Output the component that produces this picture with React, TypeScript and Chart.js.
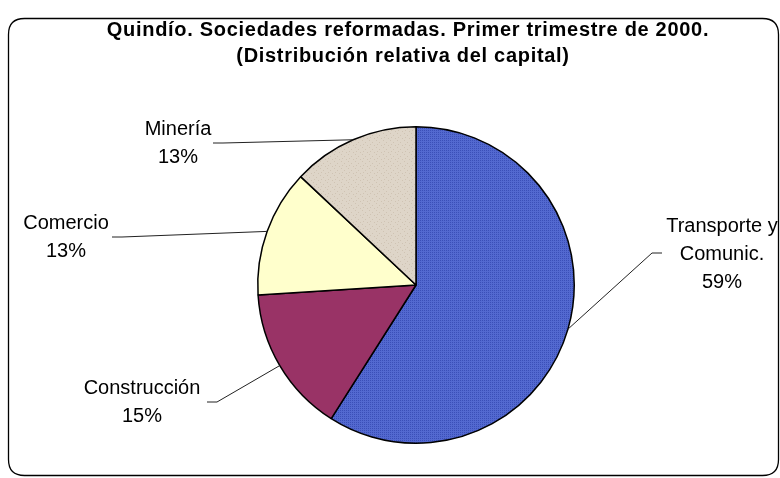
import React, { useEffect, useRef } from "react";
import { Chart, registerables } from "chart.js";

Chart.register(...registerables);

const categories = ["Transporte y Comunic.", "Construcción", "Comercio", "Minería"];
const labelLines = [["Transporte y", "Comunic."], ["Construcción"], ["Comercio"], ["Minería"]];
const shares = [59, 15, 13, 13];
const titleLines = [
  "Quindío. Sociedades reformadas. Primer trimestre de 2000.",
  "(Distribución relativa del capital)",
];

// label layout: text centre relative to pie centre, stub end relative to text centre
const labelLayout = [
  { dx: 306, dy: -31, sx: -60, sy: -1, dir: -1 },
  { dx: -274, dy: 117, sx: 65, sy: 0, dir: 1 },
  { dx: -350, dy: -48, sx: 46, sy: 0, dir: 1 },
  { dx: -238, dy: -142, sx: 35, sy: 0, dir: 1 },
];

function makePattern(base: string, dot: string, size: number, dots: number[][]) {
  const c = document.createElement("canvas");
  c.width = size;
  c.height = size;
  const g = c.getContext("2d")!;
  g.fillStyle = base;
  g.fillRect(0, 0, size, size);
  g.fillStyle = dot;
  dots.forEach(([x, y]) => g.fillRect(x, y, 1, 1));
  return g.createPattern(c, "repeat")!;
}

const decorPlugin = {
  id: "decor",
  beforeDraw(chart: any) {
    const ctx = chart.ctx as CanvasRenderingContext2D;
    ctx.save();
    ctx.fillStyle = "#ffffff";
    ctx.fillRect(0, 0, chart.width, chart.height);
    const x0 = 8.5, y0 = 18.5, x1 = 778.5, y1 = 475.5, r = 16;
    ctx.beginPath();
    ctx.moveTo(x0 + r, y0);
    ctx.lineTo(x1 - r, y0);
    ctx.quadraticCurveTo(x1, y0, x1, y0 + r);
    ctx.lineTo(x1, y1 - r);
    ctx.quadraticCurveTo(x1, y1, x1 - r, y1);
    ctx.lineTo(x0 + r, y1);
    ctx.quadraticCurveTo(x0, y1, x0, y1 - r);
    ctx.lineTo(x0, y0 + r);
    ctx.quadraticCurveTo(x0, y0, x0 + r, y0);
    ctx.closePath();
    ctx.lineWidth = 1.3;
    ctx.strokeStyle = "#000000";
    ctx.stroke();
    ctx.restore();
  },
  afterDraw(chart: any) {
    const ctx = chart.ctx as CanvasRenderingContext2D;
    ctx.save();
    // title
    ctx.fillStyle = "#000000";
    ctx.textAlign = "center";
    ctx.textBaseline = "middle";
    ctx.font = "bold 20px 'Liberation Sans', Arial, sans-serif";
    (ctx as any).letterSpacing = "0.7px";
    ctx.fillText(titleLines[0], 408, 30);
    ctx.fillText(titleLines[1], 403, 56);
    (ctx as any).letterSpacing = "0px";

    const meta = chart.getDatasetMeta(0);
    const data = chart.data.datasets[0].data as number[];
    const total = data.reduce((a, b) => a + b, 0);
    ctx.font = "20px 'Liberation Sans', Arial, sans-serif";
    meta.data.forEach((arc: any, i: number) => {
      const mid = (arc.startAngle + arc.endAngle) / 2;
      const ex = arc.x + Math.cos(mid) * arc.outerRadius;
      const ey = arc.y + Math.sin(mid) * arc.outerRadius;
      const L = labelLayout[i];
      const tx = arc.x + L.dx;
      const ty = arc.y + L.dy;
      const stubX = tx + L.sx;
      const stubY = ty + L.sy;
      const elbowX = stubX + L.dir * 10;
      ctx.beginPath();
      ctx.moveTo(ex, ey);
      ctx.lineTo(elbowX, stubY);
      ctx.lineTo(stubX, stubY);
      ctx.lineWidth = 1;
      ctx.strokeStyle = "#222222";
      ctx.stroke();
      const pct = Math.round((data[i] / total) * 100) + "%";
      const lines = [...labelLines[i], pct];
      const lh = 28;
      const startY = ty - ((lines.length - 1) * lh) / 2;
      ctx.fillStyle = "#000000";
      lines.forEach((t, k) => ctx.fillText(t, tx, startY + k * lh));
    });
    ctx.restore();
  },
};

export default function App() {
  const ref = useRef<HTMLCanvasElement>(null);
  useEffect(() => {
    const canvas = ref.current!;
    const blue = makePattern("#5369d0", "#3b4fb8", 2, [[0, 0]]);
    const beige = makePattern("#ded5c8", "#cfc3b3", 7, [[1, 2], [5, 0], [3, 5], [6, 4]]);
    const chart = new Chart(canvas, {
      type: "pie",
      data: {
        labels: categories,
        datasets: [
          {
            data: shares,
            backgroundColor: [blue, "#993366", "#ffffcc", beige],
            borderColor: "#000000",
            borderWidth: 1.5,
            borderAlign: "center",
          } as any,
        ],
      },
      options: {
        animation: false,
        responsive: false,
        layout: { padding: { left: 257, right: 205, top: 126, bottom: 34 } },
        plugins: {
          legend: { display: false },
          title: { display: false },
          tooltip: { enabled: false },
        },
      },
      plugins: [decorPlugin],
    });
    return () => chart.destroy();
  }, []);
  return (
    <div style={{ position: "fixed", left: 0, top: 0, width: 780, height: 478 }}>
      <canvas ref={ref} width={780} height={478} style={{ display: "block", width: 780, height: 478 }} />
    </div>
  );
}
